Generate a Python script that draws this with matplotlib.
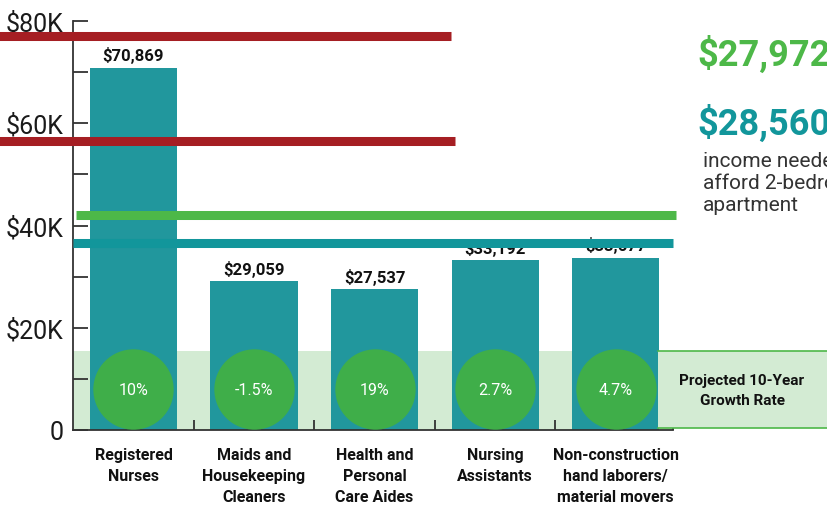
"""Wages vs. housing income needed, with projected growth rates."""

import matplotlib as mpl
mpl.use("Agg")
import matplotlib.pyplot as plt
from matplotlib.patches import Rectangle
from matplotlib.ticker import FuncFormatter, MultipleLocator

categories = [
    "Registered\nNurses",
    "Maids and\nHousekeeping\nCleaners",
    "Health and\nPersonal\nCare Aides",
    "Nursing\nAssistants",
    "Non-construction\nhand laborers/\nmaterial movers",
]
wages = [70869, 29059, 27537, 33192, 33677]
wage_labels = ["$70,869", "$29,059", "$27,537", "$33,192", "$33,677"]
growth = ["10%", "-1.5%", "19%", "2.7%", "4.7%"]

red_lines = [77100, 56600]
green_line = 42100
teal_line = 36600
band_top = 15500
circle_level = 8000

TEAL = "#21979d"
CIRCLE = "#3fae49"
BAND = "#d3ebd3"
RED = "#a51e23"
GREEN = "#4db848"
TEAL_LINE = "#12969b"

COND = ["Roboto", "DejaVu Sans"]

W, H = 827, 506
fig = plt.figure(figsize=(W / 100, H / 100), dpi=100)
ax = fig.add_axes([73 / W, (H - 431) / H, 600 / W, 409 / H])

x = list(range(len(categories)))
ax.set_xlim(-0.502, 4.477)
ax.set_ylim(0, 80000)

ax.axhspan(0, band_top, color=BAND, zorder=0, lw=0)
ax.bar(x, wages, width=0.722, color=TEAL, zorder=2)

for xi, w, lab in zip(x, wages, wage_labels):
    ax.text(xi, w + 900, lab, ha="center", va="bottom", fontsize=12,
            fontweight="bold", family=COND, color="#111111", zorder=3)

ax.scatter(x, [circle_level] * len(x), s=3350, color=CIRCLE, zorder=3, lw=0)
for xi, g in zip(x, growth):
    ax.text(xi, circle_level, g, ha="center", va="center", fontsize=11.5,
            family=COND, color="white", zorder=4)

# reference lines drawn over bars and labels
line_kw = dict(lw=6.5, clip_on=False, zorder=5, solid_capstyle="butt")
ax.axhline(red_lines[0], xmin=-0.13, xmax=0.63, color=RED, **line_kw)
ax.axhline(red_lines[1], xmin=-0.13, xmax=0.637, color=RED, **line_kw)
ax.axhline(green_line, xmin=0.005, xmax=1.005, color=GREEN, **line_kw)
ax.axhline(teal_line, xmin=0.0, xmax=1.0, color=TEAL_LINE, **line_kw)

# growth rate legend box on the right
box = Rectangle((658 / W, (H - 429) / H), 175 / W, 77 / H, transform=fig.transFigure,
                facecolor=BAND, edgecolor="none", zorder=1)
fig.add_artist(box)
for yy in (352, 429):
    fig.add_artist(plt.Line2D([658 / W, 1.0], [(H - yy) / H] * 2, color=GREEN, lw=1.2,
                              transform=fig.transFigure))
fig.text(742 / W, (H - 391) / H, "Projected 10-Year\nGrowth Rate", ha="center", va="center",
         fontsize=11, fontweight="bold", family=COND, color="#111111", linespacing=1.6)

# axes styling
for side in ("top", "right"):
    ax.spines[side].set_visible(False)
ax.spines["left"].set_linewidth(1.3)
ax.spines["bottom"].set_linewidth(1.3)
ax.spines["left"].set_color("#333333")
ax.spines["bottom"].set_color("#333333")

ax.yaxis.set_major_locator(MultipleLocator(20000))
ax.yaxis.set_minor_locator(MultipleLocator(10000))
ax.yaxis.set_major_formatter(FuncFormatter(lambda v, _: "0" if v == 0 else f"${int(v / 1000)}K"))
ax.tick_params(axis="y", which="both", direction="in", length=11, width=1.3, color="#333333")
ax.tick_params(axis="y", which="major", pad=7, labelsize=18, labelcolor="#1a1a1a")
for t in ax.get_yticklabels():
    t.set_family(COND)

ax.set_xticks(x, categories)
ax.set_xticks([0.5, 1.5, 2.5, 3.5, 4.477], minor=True)
ax.tick_params(axis="x", which="major", length=0, pad=12)
ax.tick_params(axis="x", which="minor", direction="in", length=7, width=1.3, color="#333333")
for t in ax.get_xticklabels():
    t.set_family(COND)
    t.set_fontweight("bold")
    t.set_fontsize(11.5)
    t.set_linespacing(1.5)
    t.set_color("#111111")

# right-hand annotation (runs off the right edge, as in the original)
fig.text(697 / W, (H - 55) / H, "$27,972", ha="left", va="center", fontsize=26,
         fontweight="bold", family=COND, color=GREEN)
fig.text(697 / W, (H - 124) / H, "$28,560", ha="left", va="center", fontsize=26,
         fontweight="bold", family=COND, color=TEAL_LINE)
fig.text(703 / W, (H - 152) / H, "income needed to\nafford 2-bedroom\napartment", ha="left",
         va="top", fontsize=15, family=COND, color="#333333", linespacing=1.2)

fig.savefig("out.png", dpi=100)
